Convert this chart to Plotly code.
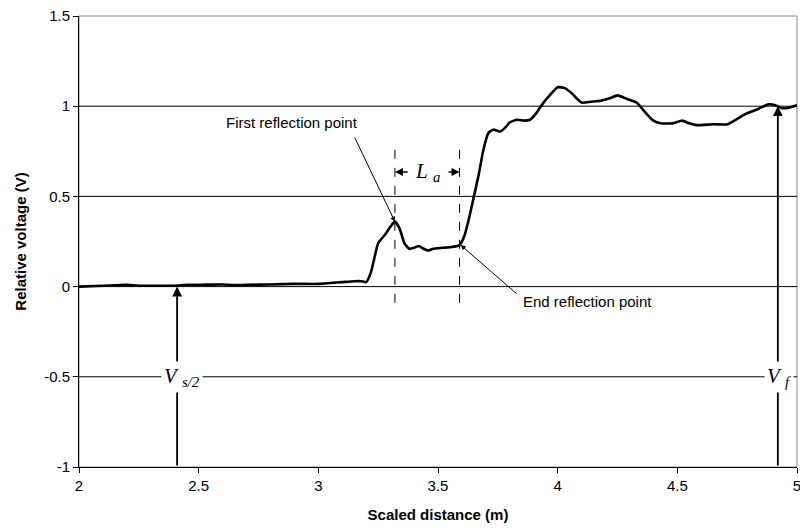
import plotly.graph_objects as go

# Data
distance = [2.0, 2.1, 2.2, 2.25, 2.3, 2.4, 2.45, 2.5, 2.6, 2.65, 2.7, 2.8, 2.9, 3.0, 3.05, 3.1,
            3.15, 3.18, 3.2, 3.22, 3.25, 3.28, 3.3, 3.32, 3.34, 3.36, 3.38, 3.4, 3.42, 3.44,
            3.46, 3.48, 3.52, 3.56, 3.59, 3.61, 3.63, 3.65, 3.67, 3.69, 3.71, 3.73, 3.76,
            3.78, 3.8, 3.83, 3.86, 3.885, 3.91, 3.93, 3.96, 4.0, 4.03, 4.06, 4.1, 4.14, 4.18,
            4.22, 4.25, 4.29, 4.33, 4.37, 4.4, 4.43, 4.48, 4.52, 4.55, 4.58, 4.65, 4.71, 4.75,
            4.79, 4.83, 4.88, 4.91, 4.935, 4.96, 5.0]
voltage = [0.0, 0.005, 0.01, 0.005, 0.005, 0.005, 0.01, 0.01, 0.012, 0.008, 0.01, 0.012, 0.015,
           0.015, 0.02, 0.025, 0.03, 0.03, 0.025, 0.08, 0.24, 0.29, 0.33, 0.36, 0.32, 0.24, 0.21,
           0.215, 0.225, 0.21, 0.20, 0.21, 0.215, 0.22, 0.23, 0.28, 0.38, 0.5, 0.62, 0.76, 0.85,
           0.87, 0.86, 0.88, 0.91, 0.925, 0.92, 0.925, 0.96, 1.0, 1.05, 1.105, 1.1, 1.07, 1.02,
           1.025, 1.03, 1.045, 1.06, 1.04, 1.02, 0.96, 0.92, 0.905, 0.905, 0.92, 0.905, 0.895,
           0.9, 0.9, 0.93, 0.96, 0.98, 1.01, 1.005, 0.99, 0.99, 1.005]

x_ticks = [2, 2.5, 3, 3.5, 4, 4.5, 5]
x_tick_labels = ["2", "2.5", "3", "3.5", "4", "4.5", "5"]
y_ticks = [-1, -0.5, 0, 0.5, 1, 1.5]
y_tick_labels = ["-1", "-0.5", "0", "0.5", "1", "1.5"]
grid_levels = [-0.5, 0, 0.5, 1]

first_reflection = (3.32, 0.36)
end_reflection = (3.59, 0.23)
la_level = 0.635
dash_top, dash_bottom = 0.76, -0.09
vs2_x, vf_x = 2.41, 4.92
vs2_head, vf_head = 0.0, 1.0
label_level = -0.5

SANS = "Liberation Sans, Arial, sans-serif"
SERIF = "Liberation Serif, Times New Roman, serif"

fig = go.Figure()
fig.add_trace(go.Scatter(x=distance, y=voltage, mode="lines",
                         line=dict(color="black", width=2.6, shape="spline", smoothing=0.5),
                         showlegend=False, hoverinfo="skip", cliponaxis=False))

shapes = []
shapes.append(dict(type="rect", xref="paper", yref="paper", x0=0, x1=1, y0=0, y1=1,
                   line=dict(color="#888888", width=1), layer="below"))
for g in grid_levels:
    shapes.append(dict(type="line", xref="paper", yref="y", x0=0, x1=1, y0=g, y1=g,
                       line=dict(color="black", width=1), layer="below"))
for xv in (first_reflection[0], end_reflection[0]):
    shapes.append(dict(type="line", xref="x", yref="y", x0=xv, x1=xv, y0=dash_bottom, y1=dash_top,
                       line=dict(color="black", width=1, dash="dash"), layer="above"))

ann = []
def arrow(xh, yh, xt, yt, head=2, size=1.0, width=1.2):
    ann.append(dict(x=xh, y=yh, ax=xt, ay=yt, xref="x", yref="y", axref="x", ayref="y",
                    text="", showarrow=True, arrowhead=head, arrowsize=size, arrowwidth=width,
                    arrowcolor="black", standoff=0, startstandoff=0))

arrow(vs2_x, vs2_head, vs2_x, -1, head=2, size=1.1, width=1.8)
arrow(vf_x, vf_head, vf_x, -1, head=2, size=1.1, width=1.8)
arrow(first_reflection[0], first_reflection[1], 3.149, 0.835, head=2, size=1.0, width=1.0)
arrow(end_reflection[0] + 0.005, end_reflection[1], 3.835, -0.047, head=2, size=1.0, width=1.0)
arrow(first_reflection[0], la_level, 3.379, la_level, head=2, size=1.0, width=1.6)
arrow(end_reflection[0], la_level, 3.538, la_level, head=2, size=1.0, width=1.6)

ann.append(dict(x=2.89, y=0.91, xref="x", yref="y", text="First reflection point",
                showarrow=False, font=dict(family=SANS, size=15, color="black")))
ann.append(dict(x=3.848, y=-0.085, xref="x", yref="y", text="End reflection point",
                showarrow=False, xanchor="left", font=dict(family=SANS, size=15, color="black")))
ann.append(dict(x=3.458, y=la_level, xref="x", yref="y",
                text="<i>L</i> <sub><i>a</i></sub>", showarrow=False,
                font=dict(family=SERIF, size=21, color="black")))
ann.append(dict(x=2.43, y=label_level, xref="x", yref="y",
                text="<i>V</i> <sub><i>s/2</i></sub>", showarrow=False, bgcolor="white",
                borderpad=2, font=dict(family=SERIF, size=21, color="black")))
ann.append(dict(x=vf_x + 0.005, y=label_level, xref="x", yref="y",
                text="<i>V</i> <sub><i>f</i></sub>", showarrow=False, bgcolor="white",
                borderpad=2, font=dict(family=SERIF, size=21, color="black")))

fig.update_layout(
    width=800, height=531,
    margin=dict(l=79, r=3, t=16, b=64, autoexpand=False),
    paper_bgcolor="white", plot_bgcolor="white",
    shapes=shapes, annotations=ann, showlegend=False,
    xaxis=dict(range=[2, 5], tickvals=x_ticks, ticktext=x_tick_labels, showgrid=False,
               zeroline=False, showline=True, linecolor="black", linewidth=1,
               ticks="outside", ticklen=5, tickcolor="black", automargin=False,
               ticklabeloverflow="allow",
               tickfont=dict(family=SANS, size=15, color="black"),
               title=dict(text="<b>Scaled distance (m)</b>", font=dict(family=SANS, size=15, color="black"),
                          standoff=16)),
    yaxis=dict(range=[-1, 1.5], tickvals=y_ticks, ticktext=y_tick_labels, showgrid=False,
               zeroline=False, showline=True, linecolor="black", linewidth=1,
               ticks="outside", ticklen=5, tickcolor="black", automargin=False,
               ticklabeloverflow="allow",
               tickfont=dict(family=SANS, size=15, color="black"),
               title=dict(text="<b>Relative voltage (V)</b>", font=dict(family=SANS, size=15, color="black"),
                          standoff=13)),
)

fig.write_html("out.html", config={"displayModeBar": False},
               post_script="document.body.style.margin='0';document.body.style.overflow='hidden';")
